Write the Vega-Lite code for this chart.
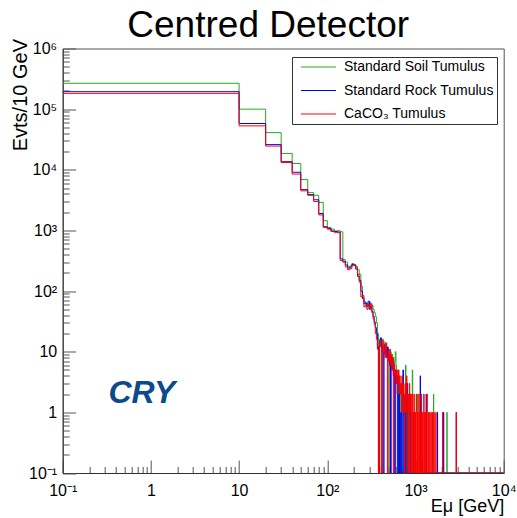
{
"$schema": "https://vega.github.io/schema/vega-lite/v6.json",
"width": 441, "height": 424.5,
"autosize": {"type": "none"},
"padding": {"left": 62.7, "top": 48.5, "right": 13.3, "bottom": 45},
"background": "white",
"title": {"text": "Centred Detector", "fontSize": 37, "font": "Liberation Sans", "fontWeight": "normal", "color": "black", "anchor": "middle", "dx": -15, "offset": 11, "dy": 46, "baseline": "alphabetic"},
"config": {"view": {"stroke": "#555", "strokeWidth": 1}, "font": "Liberation Sans"},
"data": {"values": [
{"s":"soil","e":0,"n":267000},{"s":"soil","e":10,"n":100000},{"s":"soil","e":20,"n":41000},{"s":"soil","e":30,"n":18600},{"s":"soil","e":40,"n":12700},{"s":"soil","e":50,"n":6900},{"s":"soil","e":60,"n":4200},{"s":"soil","e":70,"n":3800},{"s":"soil","e":80,"n":2900},{"s":"soil","e":90,"n":1450},{"s":"soil","e":100,"n":1120},{"s":"soil","e":110,"n":1050},{"s":"soil","e":120,"n":980},{"s":"soil","e":130,"n":990},{"s":"soil","e":140,"n":950},{"s":"soil","e":150,"n":330},{"s":"soil","e":160,"n":300},{"s":"soil","e":170,"n":250},{"s":"soil","e":180,"n":260},{"s":"soil","e":190,"n":285},{"s":"soil","e":200,"n":275},{"s":"soil","e":210,"n":255},{"s":"soil","e":220,"n":225},{"s":"soil","e":230,"n":190},{"s":"soil","e":240,"n":120},{"s":"soil","e":250,"n":80},{"s":"soil","e":260,"n":68},{"s":"soil","e":270,"n":60},{"s":"soil","e":280,"n":62},{"s":"soil","e":290,"n":55},{"s":"soil","e":300,"n":66},{"s":"soil","e":310,"n":60},{"s":"soil","e":320,"n":58},{"s":"soil","e":330,"n":50},{"s":"soil","e":340,"n":44},{"s":"soil","e":350,"n":38},{"s":"soil","e":360,"n":30},{"s":"soil","e":370,"n":20},{"s":"soil","e":380,"n":12},{"s":"soil","e":390,"n":16},{"s":"soil","e":400,"n":14},{"s":"soil","e":410,"n":0},{"s":"soil","e":420,"n":13},{"s":"soil","e":430,"n":15},{"s":"soil","e":440,"n":11},{"s":"soil","e":450,"n":14},{"s":"soil","e":460,"n":10},{"s":"soil","e":470,"n":12},{"s":"soil","e":480,"n":9},{"s":"soil","e":490,"n":11},{"s":"soil","e":500,"n":8},{"s":"soil","e":510,"n":0},{"s":"soil","e":520,"n":10},{"s":"soil","e":530,"n":7},{"s":"soil","e":540,"n":9},{"s":"soil","e":550,"n":6},{"s":"soil","e":560,"n":8},{"s":"soil","e":570,"n":5},{"s":"soil","e":580,"n":7},{"s":"soil","e":590,"n":10},{"s":"soil","e":600,"n":6},{"s":"soil","e":610,"n":4},{"s":"soil","e":620,"n":0},{"s":"soil","e":630,"n":5},{"s":"soil","e":640,"n":3},{"s":"soil","e":650,"n":4},{"s":"soil","e":660,"n":0},{"s":"soil","e":670,"n":3},{"s":"soil","e":680,"n":2},{"s":"soil","e":690,"n":0},{"s":"soil","e":700,"n":3},{"s":"soil","e":710,"n":2},{"s":"soil","e":720,"n":0},{"s":"soil","e":740,"n":1},{"s":"soil","e":750,"n":0},{"s":"soil","e":770,"n":6},{"s":"soil","e":780,"n":2},{"s":"soil","e":790,"n":0},{"s":"soil","e":820,"n":1},{"s":"soil","e":830,"n":0},{"s":"soil","e":860,"n":2},{"s":"soil","e":870,"n":1},{"s":"soil","e":880,"n":0},{"s":"soil","e":920,"n":5},{"s":"soil","e":930,"n":0},{"s":"soil","e":980,"n":1},{"s":"soil","e":990,"n":0},{"s":"soil","e":1050,"n":2},{"s":"soil","e":1060,"n":0},{"s":"soil","e":1130,"n":1},{"s":"soil","e":1140,"n":0},{"s":"soil","e":1250,"n":1},{"s":"soil","e":1260,"n":0},{"s":"soil","e":1600,"n":2},{"s":"soil","e":1610,"n":0},{"s":"soil","e":2270,"n":1},{"s":"soil","e":2280,"n":0},{"s":"soil","e":10000,"n":0},
{"s":"rock","e":0,"n":194000},{"s":"rock","e":10,"n":58000},{"s":"rock","e":20,"n":26000},{"s":"rock","e":30,"n":13600},{"s":"rock","e":40,"n":9100},{"s":"rock","e":50,"n":4700},{"s":"rock","e":60,"n":3900},{"s":"rock","e":70,"n":3200},{"s":"rock","e":80,"n":1900},{"s":"rock","e":90,"n":1150},{"s":"rock","e":100,"n":1080},{"s":"rock","e":110,"n":980},{"s":"rock","e":120,"n":960},{"s":"rock","e":130,"n":940},{"s":"rock","e":140,"n":340},{"s":"rock","e":150,"n":310},{"s":"rock","e":160,"n":270},{"s":"rock","e":170,"n":240},{"s":"rock","e":180,"n":250},{"s":"rock","e":190,"n":275},{"s":"rock","e":200,"n":265},{"s":"rock","e":210,"n":230},{"s":"rock","e":220,"n":175},{"s":"rock","e":230,"n":150},{"s":"rock","e":240,"n":100},{"s":"rock","e":250,"n":75},{"s":"rock","e":260,"n":62},{"s":"rock","e":270,"n":64},{"s":"rock","e":280,"n":56},{"s":"rock","e":290,"n":68},{"s":"rock","e":300,"n":50},{"s":"rock","e":310,"n":57},{"s":"rock","e":320,"n":46},{"s":"rock","e":330,"n":38},{"s":"rock","e":340,"n":31},{"s":"rock","e":350,"n":25},{"s":"rock","e":360,"n":20},{"s":"rock","e":370,"n":12},{"s":"rock","e":380,"n":0},{"s":"rock","e":390,"n":14},{"s":"rock","e":400,"n":17},{"s":"rock","e":410,"n":12},{"s":"rock","e":420,"n":10},{"s":"rock","e":430,"n":0},{"s":"rock","e":440,"n":13},{"s":"rock","e":450,"n":9},{"s":"rock","e":460,"n":11},{"s":"rock","e":470,"n":8},{"s":"rock","e":480,"n":12},{"s":"rock","e":490,"n":7},{"s":"rock","e":500,"n":9},{"s":"rock","e":510,"n":6},{"s":"rock","e":520,"n":0},{"s":"rock","e":530,"n":8},{"s":"rock","e":540,"n":5},{"s":"rock","e":550,"n":7},{"s":"rock","e":560,"n":4},{"s":"rock","e":570,"n":6},{"s":"rock","e":580,"n":0},{"s":"rock","e":590,"n":5},{"s":"rock","e":600,"n":3},{"s":"rock","e":610,"n":4},{"s":"rock","e":620,"n":2},{"s":"rock","e":630,"n":0},{"s":"rock","e":640,"n":3},{"s":"rock","e":650,"n":2},{"s":"rock","e":660,"n":0},{"s":"rock","e":680,"n":1},{"s":"rock","e":690,"n":0},{"s":"rock","e":720,"n":5},{"s":"rock","e":730,"n":2},{"s":"rock","e":740,"n":0},{"s":"rock","e":760,"n":1},{"s":"rock","e":770,"n":0},{"s":"rock","e":800,"n":3},{"s":"rock","e":810,"n":1},{"s":"rock","e":820,"n":0},{"s":"rock","e":870,"n":2},{"s":"rock","e":880,"n":0},{"s":"rock","e":950,"n":1},{"s":"rock","e":960,"n":0},{"s":"rock","e":1130,"n":4},{"s":"rock","e":1140,"n":0},{"s":"rock","e":1320,"n":2},{"s":"rock","e":1330,"n":0},{"s":"rock","e":1770,"n":1},{"s":"rock","e":1780,"n":0},{"s":"rock","e":2080,"n":1},{"s":"rock","e":2090,"n":0},{"s":"rock","e":2900,"n":1},{"s":"rock","e":2910,"n":0},{"s":"rock","e":10000,"n":0},
{"s":"caco3","e":0,"n":182000},{"s":"caco3","e":10,"n":53000},{"s":"caco3","e":20,"n":24600},{"s":"caco3","e":30,"n":13200},{"s":"caco3","e":40,"n":8500},{"s":"caco3","e":50,"n":4500},{"s":"caco3","e":60,"n":3800},{"s":"caco3","e":70,"n":3000},{"s":"caco3","e":80,"n":1800},{"s":"caco3","e":90,"n":1120},{"s":"caco3","e":100,"n":1050},{"s":"caco3","e":110,"n":960},{"s":"caco3","e":120,"n":930},{"s":"caco3","e":130,"n":920},{"s":"caco3","e":140,"n":320},{"s":"caco3","e":150,"n":300},{"s":"caco3","e":160,"n":250},{"s":"caco3","e":170,"n":225},{"s":"caco3","e":180,"n":235},{"s":"caco3","e":190,"n":265},{"s":"caco3","e":200,"n":270},{"s":"caco3","e":210,"n":240},{"s":"caco3","e":220,"n":190},{"s":"caco3","e":230,"n":140},{"s":"caco3","e":240,"n":80},{"s":"caco3","e":250,"n":85},{"s":"caco3","e":260,"n":55},{"s":"caco3","e":270,"n":58},{"s":"caco3","e":280,"n":50},{"s":"caco3","e":290,"n":60},{"s":"caco3","e":300,"n":52},{"s":"caco3","e":310,"n":62},{"s":"caco3","e":320,"n":44},{"s":"caco3","e":330,"n":35},{"s":"caco3","e":340,"n":28},{"s":"caco3","e":350,"n":20},{"s":"caco3","e":360,"n":16},{"s":"caco3","e":370,"n":11},{"s":"caco3","e":380,"n":0},{"s":"caco3","e":390,"n":15},{"s":"caco3","e":400,"n":12},{"s":"caco3","e":410,"n":0},{"s":"caco3","e":420,"n":16},{"s":"caco3","e":430,"n":10},{"s":"caco3","e":440,"n":13},{"s":"caco3","e":450,"n":8},{"s":"caco3","e":460,"n":14},{"s":"caco3","e":470,"n":9},{"s":"caco3","e":480,"n":0},{"s":"caco3","e":490,"n":10},{"s":"caco3","e":500,"n":7},{"s":"caco3","e":510,"n":11},{"s":"caco3","e":520,"n":6},{"s":"caco3","e":530,"n":9},{"s":"caco3","e":540,"n":5},{"s":"caco3","e":550,"n":8},{"s":"caco3","e":560,"n":0},{"s":"caco3","e":570,"n":6},{"s":"caco3","e":580,"n":4},{"s":"caco3","e":590,"n":5},{"s":"caco3","e":600,"n":3},{"s":"caco3","e":610,"n":5},{"s":"caco3","e":620,"n":4},{"s":"caco3","e":630,"n":2},{"s":"caco3","e":640,"n":5},{"s":"caco3","e":650,"n":3},{"s":"caco3","e":660,"n":4},{"s":"caco3","e":670,"n":2},{"s":"caco3","e":680,"n":3},{"s":"caco3","e":690,"n":1},{"s":"caco3","e":700,"n":4},{"s":"caco3","e":710,"n":2},{"s":"caco3","e":720,"n":3},{"s":"caco3","e":730,"n":1},{"s":"caco3","e":740,"n":2},{"s":"caco3","e":750,"n":0},{"s":"caco3","e":760,"n":3},{"s":"caco3","e":770,"n":1},{"s":"caco3","e":780,"n":2},{"s":"caco3","e":790,"n":4},{"s":"caco3","e":800,"n":1},{"s":"caco3","e":810,"n":2},{"s":"caco3","e":820,"n":0},{"s":"caco3","e":830,"n":2},{"s":"caco3","e":840,"n":1},{"s":"caco3","e":850,"n":3},{"s":"caco3","e":860,"n":0},{"s":"caco3","e":870,"n":1},{"s":"caco3","e":880,"n":2},{"s":"caco3","e":890,"n":1},{"s":"caco3","e":900,"n":0},{"s":"caco3","e":910,"n":2},{"s":"caco3","e":920,"n":1},{"s":"caco3","e":930,"n":0},{"s":"caco3","e":950,"n":1},{"s":"caco3","e":960,"n":2},{"s":"caco3","e":970,"n":0},{"s":"caco3","e":990,"n":1},{"s":"caco3","e":1000,"n":0},{"s":"caco3","e":1020,"n":2},{"s":"caco3","e":1030,"n":1},{"s":"caco3","e":1040,"n":0},{"s":"caco3","e":1060,"n":1},{"s":"caco3","e":1070,"n":0},{"s":"caco3","e":1090,"n":2},{"s":"caco3","e":1100,"n":0},{"s":"caco3","e":1120,"n":1},{"s":"caco3","e":1130,"n":0},{"s":"caco3","e":1150,"n":1},{"s":"caco3","e":1160,"n":2},{"s":"caco3","e":1170,"n":0},{"s":"caco3","e":1200,"n":1},{"s":"caco3","e":1210,"n":0},{"s":"caco3","e":1240,"n":2},{"s":"caco3","e":1250,"n":1},{"s":"caco3","e":1260,"n":0},{"s":"caco3","e":1290,"n":1},{"s":"caco3","e":1300,"n":0},{"s":"caco3","e":1340,"n":1},{"s":"caco3","e":1350,"n":2},{"s":"caco3","e":1360,"n":0},{"s":"caco3","e":1400,"n":1},{"s":"caco3","e":1410,"n":0},{"s":"caco3","e":1450,"n":1},{"s":"caco3","e":1460,"n":0},{"s":"caco3","e":1500,"n":1},{"s":"caco3","e":1510,"n":0},{"s":"caco3","e":1560,"n":1},{"s":"caco3","e":1570,"n":0},{"s":"caco3","e":1620,"n":1},{"s":"caco3","e":1630,"n":0},{"s":"caco3","e":1700,"n":1},{"s":"caco3","e":1710,"n":0},{"s":"caco3","e":2030,"n":1},{"s":"caco3","e":2040,"n":0},{"s":"caco3","e":2900,"n":1},{"s":"caco3","e":2910,"n":0},{"s":"caco3","e":10000,"n":0}
]},
"layer": [
{"mark": {"type": "line", "interpolate": "step-after", "strokeWidth": 1, "clip": true, "invalid": "show"},
 "encoding": {
  "x": {"field": "e", "type": "quantitative",
   "scale": {"type": "log", "domain": [0.1, 10000], "clamp": true, "nice": false},
   "axis": {"values": [0.1,0.2,0.3,0.4,0.5,0.6,0.7,0.8,0.9,1,2,3,4,5,6,7,8,9,10,20,30,40,50,60,70,80,90,100,200,300,400,500,600,700,800,900,1000,2000,3000,4000,5000,6000,7000,8000,9000,10000],
    "labelExpr": "datum.value == 0.1 ? '10⁻¹' : datum.value == 1 ? '1' : datum.value == 10 ? '10' : datum.value == 100 ? '10²' : datum.value == 1000 ? '10³' : datum.value == 10000 ? '10⁴' : ''",
    "tickSize": {"condition": {"test": "abs(log(datum.value)/LN10 - round(log(datum.value)/LN10)) < 0.001", "value": -13}, "value": -6.5},
    "grid": false, "domainColor": "#333", "tickColor": "#555", "labelColor": "black", "labelFont": "Liberation Sans", "labelFontSize": 16, "labelPadding": 22, "labelOverlap": false, "labelFlush": false, "labelBound": false,
    "title": "Eμ [GeV]", "titleFont": "Liberation Sans", "titleFontSize": 18, "titleFontWeight": "normal", "titleColor": "black", "titleAnchor": "end", "titleAlign": "right", "titleX": 441, "titleY": 38.5, "titleBaseline": "alphabetic"}},
  "y": {"field": "n", "type": "quantitative",
   "scale": {"type": "log", "domain": [0.1, 1000000], "clamp": true, "nice": false},
   "axis": {"values": [0.1,0.2,0.3,0.4,0.5,0.6,0.7,0.8,0.9,1,2,3,4,5,6,7,8,9,10,20,30,40,50,60,70,80,90,100,200,300,400,500,600,700,800,900,1000,2000,3000,4000,5000,6000,7000,8000,9000,10000,20000,30000,40000,50000,60000,70000,80000,90000,100000,200000,300000,400000,500000,600000,700000,800000,900000,1000000],
    "labelExpr": "datum.value == 0.1 ? '10⁻¹' : datum.value == 1 ? '1' : datum.value == 10 ? '10' : datum.value == 100 ? '10²' : datum.value == 1000 ? '10³' : datum.value == 10000 ? '10⁴' : datum.value == 100000 ? '10⁵' : datum.value == 1000000 ? '10⁶' : ''",
    "tickSize": {"condition": {"test": "abs(log(datum.value)/LN10 - round(log(datum.value)/LN10)) < 0.001", "value": -13}, "value": -6.5},
    "grid": false, "domainColor": "#333", "tickColor": "#555", "labelColor": "black", "labelFont": "Liberation Sans", "labelFontSize": 16, "labelPadding": 19, "labelOverlap": false, "labelFlush": false, "labelBound": false,
    "title": "Evts/10 GeV", "titleFont": "Liberation Sans", "titleFontSize": 20, "titleFontWeight": "normal", "titleColor": "black", "titleAnchor": "end", "titleAlign": "right", "titleX": -36.7, "titleY": -10, "titleBaseline": "alphabetic"}},
  "color": {"field": "s", "type": "nominal",
   "scale": {"domain": ["soil", "rock", "caco3"], "range": ["#22aa22", "#0000ff", "#ff0000"]},
   "legend": {"orient": "none", "legendX": 229.3, "legendY": 8.5, "title": null,
    "labelExpr": "datum.label == 'soil' ? 'Standard Soil Tumulus' : datum.label == 'rock' ? 'Standard Rock Tumulus' : 'CaCO₃ Tumulus'",
    "symbolType": "M-0.17,0H5.67", "symbolSize": 144, "symbolStrokeWidth": 1,
    "labelFont": "Liberation Sans", "labelFontSize": 14, "labelColor": "black", "labelOffset": 35, "labelLimit": 300,
    "strokeColor": "#333", "fillColor": "white", "padding": 3, "rowPadding": 9.5}}
 }},
{"data": {"values": [{"t": "CRY"}]},
 "mark": {"type": "text", "font": "Liberation Sans", "fontStyle": "italic", "fontWeight": "bold", "fontSize": 32, "color": "#0c4a8c", "align": "left", "baseline": "alphabetic"},
 "encoding": {"x": {"datum": 0.33}, "y": {"datum": 1.4}, "text": {"field": "t"}}}
]
}
